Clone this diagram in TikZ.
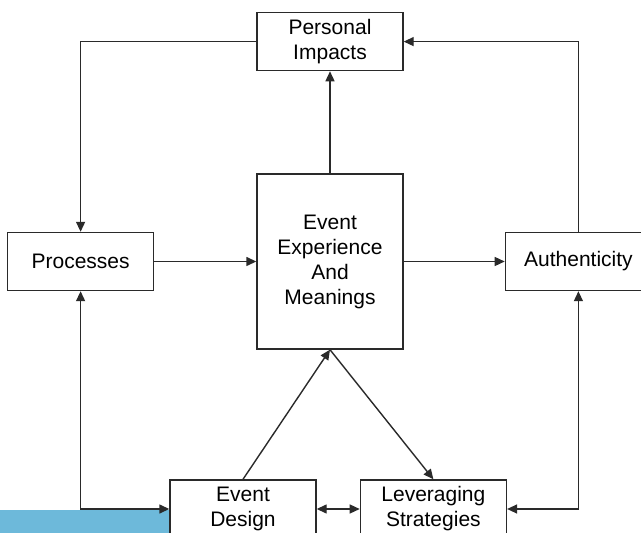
\documentclass[tikz,border=0pt]{standalone}
\usepackage{fontspec}
\setmainfont{Liberation Sans}
\usepackage{xcolor}
\definecolor{ribbon}{HTML}{6DB9DA}
\definecolor{ink}{HTML}{2A2A2A}
\usetikzlibrary{%
    arrows.meta,
    positioning
}

\begin{document}
\begin{tikzpicture}[x=0.5pt, y=-0.5pt,
                font=\fontsize{10.5pt}{12.5pt}\selectfont,
                stage/.style={rectangle, minimum width=73pt, minimum height=29pt, inner sep=0pt, text centered, fill=white, draw=ink, line width=0.7pt, align=center},
                core/.style={stage, minimum height=87.5pt},
                flow/.style={draw=ink, line width=0.7pt, -{Triangle[length=5pt,width=4.5pt]}},
                double_flow/.style={draw=ink, line width=0.7pt, {Triangle[length=5pt,width=4.5pt]}-{Triangle[length=5pt,width=4.5pt]}}
            ]

            \useasboundingbox (0,0) rectangle (641,533);
            \fill [ribbon] (0,510) rectangle (170,533);

            \node (ceem) at (330,261.5) [core] {Event \\ Experience \\ And \\ Meanings};
            \node (impacts) [stage, above=51pt of ceem] {Personal \\ Impacts};
            \node (processes) [stage, left=51pt of ceem] {Processes};
            \node (authenticity) [stage, right=50.5pt of ceem] {Authenticity};

            \node (design) at (243,509) [stage] {Event \\ Design};
            \node (leveraging) [stage, right=21.5pt of design] {Leveraging \\ Strategies};

            \draw [flow] (ceem) -- (impacts);
            \draw [flow] (processes) -- (ceem);
            \draw [flow] (ceem) -- (authenticity);
            \draw [flow] (impacts.west) -| (processes.north);
            \draw [flow] (authenticity.north) |- (impacts.east);
            \draw [flow] (design.north) -- (ceem.south);
            \draw [flow] (ceem.south) -- (leveraging.north);
            \draw [double_flow] (processes.south) |- (design.west);
            \draw [double_flow] (authenticity.south) |- (leveraging.east);
            \draw [double_flow] (design) -- (leveraging);
        \end{tikzpicture}
\end{document}
